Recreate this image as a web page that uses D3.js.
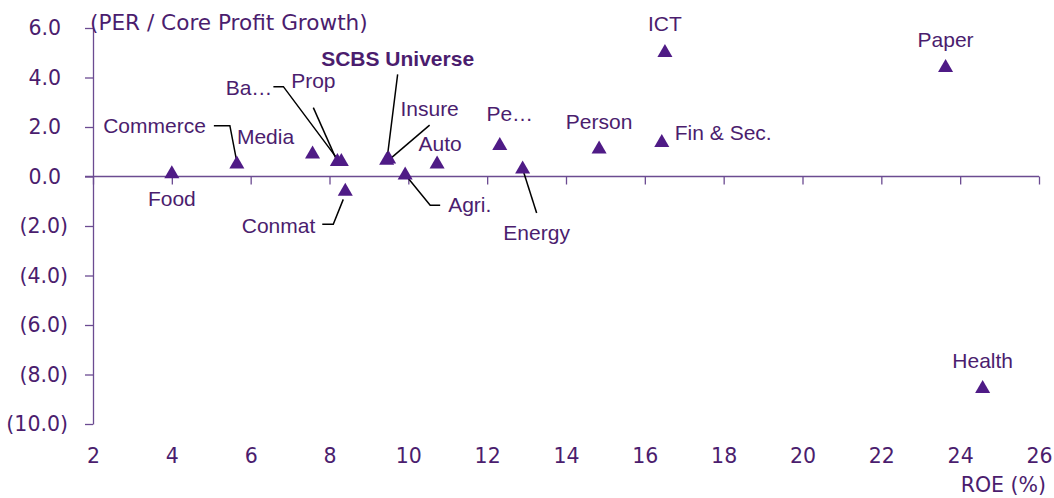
<!DOCTYPE html>
<html>
<head>
<meta charset="utf-8">
<script src="https://cdn.jsdelivr.net/npm/d3@7"></script>
<style>
    body{margin:0;background:#fff;}
    svg{display:block;}
</style>
</head>
<body>
<div id="graphWrapper"></div>
<script>
//data
const SECTORS = ['Food','Commerce','Media','Ba\u2026','Prop','Conmat','SCBS Universe','Insure','Agri.','Auto','Pe\u2026','Energy','Person','Fin & Sec.','ICT','Paper','Health'];
const ROE = [4.0, 5.65, 7.57, 8.2, 8.3, 8.4, 9.45, 9.5, 9.92, 10.73, 12.32, 12.9, 14.84, 16.43, 16.51, 23.63, 24.57];
const PER_GROWTH = [0.1, 0.5, 0.9, 0.6, 0.6, -0.6, 0.65, 0.7, 0.05, 0.5, 1.25, 0.3, 1.1, 1.37, 5.0, 4.4, -8.57];
const X_TICKS = [2,4,6,8,10,12,14,16,18,20,22,24,26];
const Y_TICKS = [-10,-8,-6,-4,-2,0,2,4,6];

//label placement, offsets in pixels from the marker (layout only)
const LABEL_LAYOUT = {
    'Food':{dx:0,dy:24,anchor:'middle'},
    'Commerce':{dx:-31,dy:-38.5,anchor:'end',leader:[[-23,-38.5],[-7,-38.5],[0,-2]]},
    'Media':{dx:-47,dy:-18,anchor:'middle'},
    'Ba\u2026':{dx:-65,dy:-74,anchor:'end',leader:[[-64,-75],[-54,-75],[2,0]]},
    'Prop':{dx:-28,dy:-81,anchor:'middle',leader:[[-28,-54],[-4,0]]},
    'Conmat':{dx:-30,dy:34,anchor:'end',leader:[[-23,33],[-12,33],[-2,8]]},
    'SCBS Universe':{dx:11,dy:-102,anchor:'middle',bold:true,leader:[[11,-86],[0,2]]},
    'Insure':{dx:41,dy:-51,anchor:'middle',leader:[[41,-34],[0,1]]},
    'Agri.':{dx:43,dy:29,anchor:'start',leader:[[3,3],[25,30],[35,30]]},
    'Auto':{dx:3,dy:-21,anchor:'middle'},
    'Pe\u2026':{dx:10,dy:-32,anchor:'middle'},
    'Energy':{dx:14,dy:63,anchor:'middle',leader:[[0,0],[14,44]]},
    'Person':{dx:0,dy:-28,anchor:'middle'},
    'Fin & Sec.':{dx:13,dy:-10,anchor:'start'},
    'ICT':{dx:0,dy:-29,anchor:'middle'},
    'Paper':{dx:0,dy:-28,anchor:'middle'},
    'Health':{dx:0,dy:-28,anchor:'middle'}
};

const CONSTANTS = {
    WIDTH:1054,
    HEIGHT:498,
    LEFT:93,      //x pixel of ROE 2
    RIGHT:1039,   //x pixel of ROE 26
    TOP:28,       //y pixel of 6.0
    BOTTOM:424,   //y pixel of (10.0)
    TEXT:'#4b1d6e',
    MARK:'#4f1b86',
    AXIS:'#6b4b91',
    AXIS_FONT:'"DejaVu Sans", sans-serif',
    LABEL_FONT:'"Liberation Sans", Arial, sans-serif'
};

let svg = d3.select('#graphWrapper')
    .append('svg')
    .attr('width',CONSTANTS.WIDTH)
    .attr('height',CONSTANTS.HEIGHT);

//scales
let xScale = d3.scaleLinear().domain([2,26]).range([CONSTANTS.LEFT,CONSTANTS.RIGHT]);
let yScale = d3.scaleLinear().domain([-10,6]).range([CONSTANTS.BOTTOM,CONSTANTS.TOP]);

//number format like (2.0) for negatives
let fmt = v => v < 0 ? '(' + d3.format('.1f')(-v) + ')' : d3.format('.1f')(v);

//y axis
let yAxis = d3.axisLeft(yScale).tickValues(Y_TICKS).tickFormat(fmt).tickSize(8).tickSizeOuter(0).tickPadding(17);
let gy = svg.append('g')
    .attr('id','y-axis')
    .attr('transform','translate(' + xScale(2) + ',0)')
    .call(yAxis);

//x axis sits on the zero line, labels go down to the bottom
let labelY = 448;
let xAxis = d3.axisBottom(xScale).tickValues(X_TICKS).tickSize(8).tickSizeOuter(0).tickPadding(labelY - yScale(0) - 8);
let gx = svg.append('g')
    .attr('id','x-axis')
    .attr('transform','translate(0,' + yScale(0) + ')')
    .call(xAxis);

[gx,gy].forEach(g=>{
    g.selectAll('path,line').attr('stroke',CONSTANTS.AXIS).attr('stroke-width',1.3);
    g.selectAll('text')
        .attr('fill',CONSTANTS.TEXT)
        .style('font-family',CONSTANTS.AXIS_FONT)
        .style('font-size','20.5px');
});
//positive numbers leave room for the closing bracket
gy.selectAll('text').filter(d=>d >= 0).attr('dx',-7);
//the zero line reaches out to the tick on the left
gx.select('path.domain').attr('d','M' + (xScale(2) - 8) + ',0H' + xScale(26));

//axis titles
svg.append('text')
    .attr('x',90)
    .attr('y',22)
    .attr('dy','0.36em')
    .attr('fill',CONSTANTS.TEXT)
    .style('font-family',CONSTANTS.AXIS_FONT)
    .style('font-size','21.6px')
    .text('(PER / Core Profit Growth)');

svg.append('text')
    .attr('x',1046)
    .attr('y',485)
    .attr('dy','0.36em')
    .attr('text-anchor','end')
    .attr('fill',CONSTANTS.TEXT)
    .style('font-family',CONSTANTS.AXIS_FONT)
    .style('font-size','20.5px')
    .text('ROE (%)');

let points = SECTORS.map((name,i)=>({name:name,roe:ROE[i],per:PER_GROWTH[i],layout:LABEL_LAYOUT[name]}));

//leader lines
let line = d3.line();
svg.append('g')
    .selectAll('path')
    .data(points.filter(d=>d.layout.leader))
    .enter()
    .append('path')
    .attr('fill','none')
    .attr('stroke','#000')
    .attr('stroke-width',1.5)
    .attr('d',d=>line(d.layout.leader.map(p=>[xScale(d.roe) + p[0], yScale(d.per) + p[1]])));

//markers
svg.append('g')
    .selectAll('path')
    .data(points)
    .enter()
    .append('path')
    .attr('d',d3.symbol().type(d3.symbolTriangle).size(98))
    .attr('transform',d=>'translate(' + xScale(d.roe) + ',' + yScale(d.per) + ')')
    .attr('fill',CONSTANTS.MARK);

//data labels
svg.append('g')
    .selectAll('text')
    .data(points)
    .enter()
    .append('text')
    .attr('x',d=>xScale(d.roe) + d.layout.dx)
    .attr('y',d=>yScale(d.per) + d.layout.dy)
    .attr('dy','0.36em')
    .attr('text-anchor',d=>d.layout.anchor)
    .attr('fill',CONSTANTS.TEXT)
    .style('font-family',CONSTANTS.LABEL_FONT)
    .style('font-size','21px')
    .style('font-weight',d=>d.layout.bold ? 'bold' : 'normal')
    .text(d=>d.name);
</script>
</body>
</html>
